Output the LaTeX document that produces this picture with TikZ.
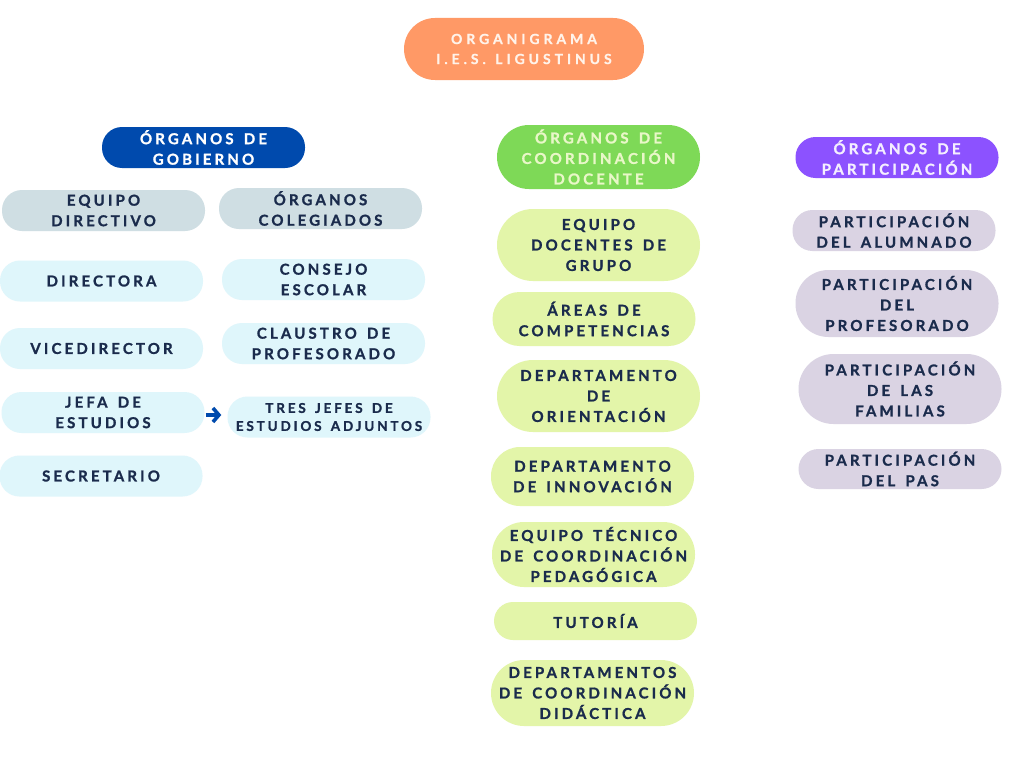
\documentclass[tikz,border=0pt]{standalone}
\usepackage{fontspec}
\newfontfamily\lbl{Lato}[LetterSpace=21,WordSpace=1.5,BoldFeatures={FakeBold=1.2}]
\newfontfamily\lblT{Lato}[LetterSpace=28,WordSpace=1.3,BoldFeatures={FakeBold=0.8}]
\usetikzlibrary{arrows.meta}
\definecolor{navy}{HTML}{1A2B4C}
\definecolor{orangeT}{HTML}{FF9966}
\definecolor{blueH}{HTML}{004AAD}
\definecolor{greenH}{HTML}{7ED957}
\definecolor{purpleH}{HTML}{8C52FF}
\definecolor{grayB}{HTML}{CFDEE3}
\definecolor{cyanL}{HTML}{DFF6FB}
\definecolor{limeL}{HTML}{E3F5A9}
\definecolor{lavL}{HTML}{DAD3E3}
\definecolor{greenTxt}{HTML}{E9F7C8}
\definecolor{purpleTxt}{HTML}{F4EEFF}
\definecolor{orangeTxt}{HTML}{FFF3EA}
\tikzset{
  pill/.style={rectangle, rounded corners=#1, inner sep=0pt, align=center,
    minimum width=203, font=\lbl\bfseries\fontsize{15}{20.5}\selectfont, text=navy},
  govbox/.style={pill=20, minimum height=41, fill=cyanL},
  govhead/.style={pill=20, minimum height=41, fill=grayB},
  coordbox/.style={pill=#1, fill=limeL},
  partbox/.style={pill=#1, fill=lavL},
  jump/.style={-{Straight Barb[length=6pt,width=14pt,line width=3.6pt]}, line width=4pt, draw=blueH}
}
\begin{document}
\begin{tikzpicture}[x=1pt,y=-1pt]
\useasboundingbox[fill=white] (0,0) rectangle (1024,768);
% title
\node[pill=31, minimum width=240, minimum height=62, fill=orangeT, text=orangeTxt,
  font=\lblT\bfseries\fontsize{14}{20}\selectfont] (title) at (524,49) {ORGANIGRAMA\\I.E.S. LIGUSTINUS};
% headers
\node[pill=20, minimum height=41, fill=blueH, text=white] (gob) at (203.5,147.5) {ÓRGANOS DE\\GOBIERNO};
\node[pill=32, minimum height=64, fill=greenH, text=greenTxt] (coord) at (598.5,157) {ÓRGANOS DE\\COORDINACIÓN\\DOCENTE};
\node[pill=20, minimum height=41, fill=purpleH, text=purpleTxt] (part) at (897,157.5) {ÓRGANOS DE\\PARTICIPACIÓN};
% gobierno
\node[govhead] (equipo) at (103.5,210.5) {EQUIPO\\DIRECTIVO};
\node[govhead] (coleg) at (320.5,208.5) {ÓRGANOS\\COLEGIADOS};
\node[govbox] (dir) at (101.5,281) {DIRECTORA};
\node[govbox] (cons) at (323.5,279.5) {CONSEJO\\ESCOLAR};
\node[govbox] (vice) at (101.5,348.5) {VICEDIRECTOR};
\node[govbox] (claus) at (323.5,343.5) {CLAUSTRO DE\\PROFESORADO};
\node[govbox] (jefa) at (103,412.5) {JEFA DE\\ESTUDIOS};
\node[govbox, font=\lbl\bfseries\fontsize{13.5}{18}\selectfont] (tres) at (329,417) {TRES JEFES DE\\ESTUDIOS ADJUNTOS};
\node[govbox] (secr) at (101,476) {SECRETARIO};
\draw[jump, shorten <=1pt, shorten >=6pt] ([yshift=-2.5pt]jefa.east) -- ([yshift=-2.5pt]jefa.east -| tres.west);
% coordinacion
\node[coordbox=36, minimum height=72] (edg) at (598.5,245) {EQUIPO\\DOCENTES DE\\GRUPO};
\node[coordbox=27, minimum height=54] (areas) at (594,319) {ÁREAS DE\\COMPETENCIAS};
\node[coordbox=36, minimum height=72] (orient) at (598.5,396) {DEPARTAMENTO\\DE\\ORIENTACIÓN};
\node[coordbox=29, minimum height=59] (innov) at (592.5,476.5) {DEPARTAMENTO\\DE INNOVACIÓN};
\node[coordbox=32, minimum height=65] (etcp) at (593.5,554.5) {EQUIPO TÉCNICO\\DE COORDINACIÓN\\PEDAGÓGICA};
\node[coordbox=19, minimum height=38] (tut) at (595.5,621) {TUTORÍA};
\node[coordbox=33, minimum height=66] (dcd) at (592.5,693) {DEPARTAMENTOS\\DE COORDINACIÓN\\DIDÁCTICA};
% participacion
\node[partbox=20, minimum height=41] (palu) at (894,230.5) {PARTICIPACIÓN\\DEL ALUMNADO};
\node[partbox=33, minimum height=67] (pprof) at (897,303.5) {PARTICIPACIÓN\\DEL\\PROFESORADO};
\node[partbox=35, minimum height=70] (pfam) at (900,389) {PARTICIPACIÓN\\DE LAS\\FAMILIAS};
\node[partbox=20, minimum height=40] (ppas) at (900,469) {PARTICIPACIÓN\\DEL PAS};
\end{tikzpicture}
\end{document}
